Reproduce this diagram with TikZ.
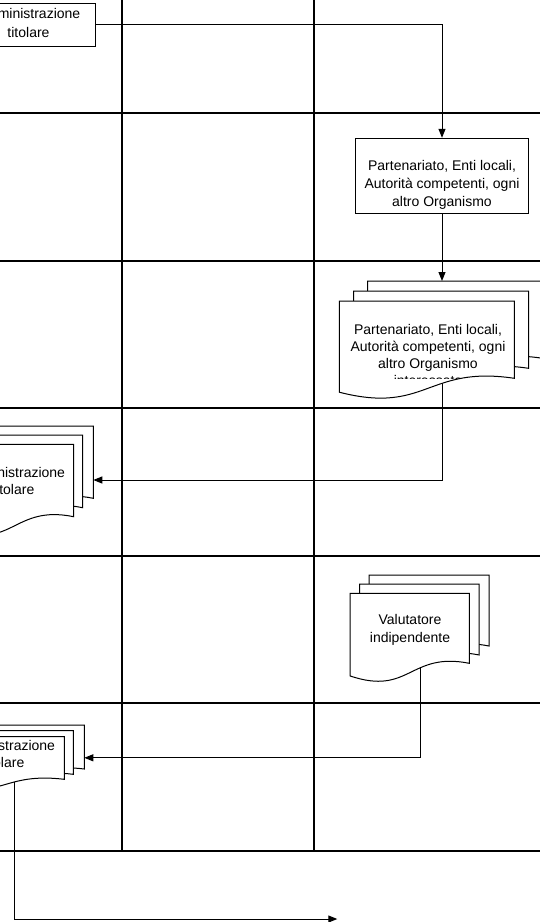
\documentclass[tikz,border=0pt]{standalone}
\usepackage{fontspec}
\setmainfont{Liberation Sans}
\usetikzlibrary{arrows.meta}
\pgfdeclarelayer{back}
\pgfsetlayers{back,main}
\tikzset{
  gridline/.style={line width=2pt, black},
  conn/.style={line width=1pt, black},
  arr/.style={conn, -{Triangle[length=9pt,width=7pt]}},
  box/.style={draw=black, line width=1pt, fill=white, inner sep=0pt},
  page/.style={draw=black, line width=1pt, fill=white, line join=miter},
  lbl/.style={align=center, inner sep=0pt, font=\fontsize{14}{17.5}\selectfont},
}
% left, top, width, height (top to right-bottom corner)
\newcommand{\docpage}[4]{%
  \pgfmathsetmacro{\dpR}{#1+#3}%
  \pgfmathsetmacro{\dpM}{#1+0.5*#3}%
  \pgfmathsetmacro{\dpB}{#2+#4}%
  \pgfmathsetmacro{\dpL}{#2+1.18*#4}%
  \pgfmathsetmacro{\dpC}{#2+0.83*#4}%
  \pgfmathsetmacro{\dpD}{#2+1.47*#4}%
  \draw[page] (#1,#2) -- (\dpR,#2) -- (\dpR,\dpB)
    .. controls (\dpM,\dpC) and (\dpM,\dpD) .. (#1,\dpL) -- cycle;}
\begin{document}
\begin{tikzpicture}[x=1pt,y=-1pt]
\useasboundingbox (0,0) rectangle (539,922);
% swimlane grid
\begin{pgfonlayer}{back}
  \foreach \yy in {113,260.7,407.7,555.8,703,851.3}
    \draw[gridline] (-2,\yy) -- (541,\yy);
  \foreach \xx in {121.5,313.7}
    \draw[gridline] (\xx,-2) -- (\xx,851.3);
\end{pgfonlayer}

% row 1: process box
\node[box, minimum width=124.7pt, minimum height=42.7pt] (box1) at (33.3,24.7) {};
\node[lbl, font=\fontsize{14}{18.5}\selectfont] (t1) at (28.5,22.8) {Amministrazione\\titolare};

% row 2: process box
\node[box, minimum width=172.6pt, minimum height=75pt] (box2) at (442,175.8) {};
\begin{scope}
  \clip (box2.south west) rectangle (box2.north east);
  \node[lbl, font=\fontsize{14}{18}\selectfont] (t2) at (442,192)
    {Partenariato, Enti locali,\\Autorità competenti, ogni\\altro Organismo\\interessato};
\end{scope}

% row 3: multi-document
\docpage{367.7}{281}{175}{77.3}
\docpage{353.5}{291}{175}{77.3}
\docpage{339.3}{301}{175}{77.3}
\begin{scope}
  \clip (339.3,301) rectangle (514.3,378.5);
  \node[lbl, font=\fontsize{14}{17}\selectfont] (t3) at (428,354.5)
    {Partenariato, Enti locali,\\Autorità competenti, ogni\\altro Organismo\\interessato};
\end{scope}

% row 4: multi-document
\docpage{-27.7}{426}{121}{72.3}
\docpage{-38.3}{435}{121}{72.7}
\docpage{-47.3}{444.3}{121}{72.4}
\node[lbl, font=\fontsize{14}{17}\selectfont] (t4) at (13.3,480.5) {Amministrazione\\titolare};

% row 5: multi-document
\docpage{369}{575}{120}{71}
\docpage{359.7}{584}{119.5}{71}
\docpage{350}{593.3}{119.3}{70}
\node[lbl, font=\fontsize{14}{18}\selectfont] (t5) at (410,630) {Valutatore\\indipendente};

% row 6: multi-document
\docpage{-37.7}{725}{122}{44}
\docpage{-48.7}{730.7}{122}{43.6}
\docpage{-57.7}{736.7}{122}{42.6}
\node[lbl, font=\fontsize{14}{17}\selectfont] (t6) at (3.3,753.5) {Amministrazione\\titolare};

% connection points
\coordinate (d3in)  at (442,281);
\coordinate (d3out) at (442,360);
\coordinate (d4in)  at (93.3,480);
\coordinate (d5out) at (420,640);
\coordinate (d6in)  at (84.3,757.8);
\coordinate (d6out) at (14.3,770);
\coordinate (endpt) at (337.3,919);

\begin{pgfonlayer}{back}
  \draw[arr] (box1.east) -| (box2.north);
  \draw[arr] (box2.south) -- (d3in);
  \draw[arr] (d3out) |- (d4in);
  \draw[arr] (d5out) |- (d6in);
  \draw[arr] (d6out) |- (endpt);
\end{pgfonlayer}
\end{tikzpicture}
\end{document}
